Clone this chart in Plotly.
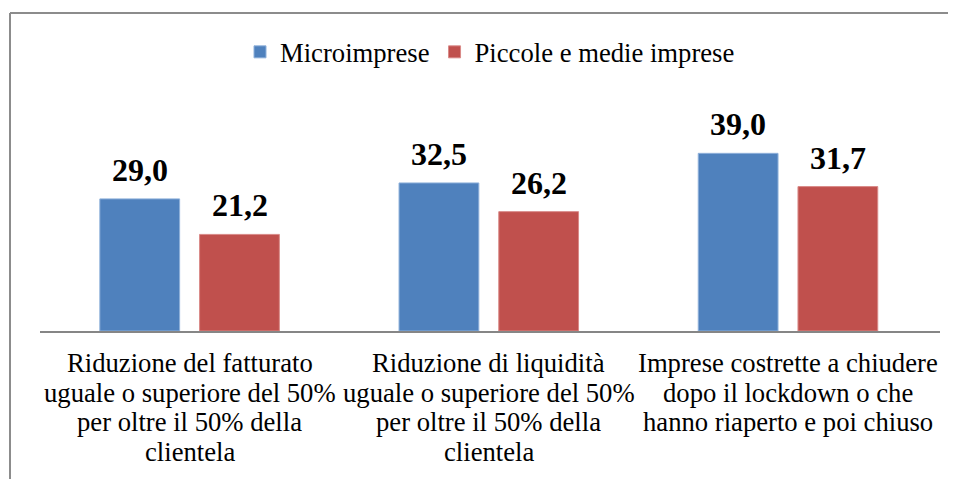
import plotly.graph_objects as go

categories = [
    "Riduzione del fatturato<br>uguale o superiore del 50%<br>per oltre il 50% della<br>clientela",
    "Riduzione di liquidità<br>uguale o superiore del 50%<br>per oltre il 50% della<br>clientela",
    "Imprese costrette a chiudere<br>dopo il lockdown o che<br>hanno riaperto e poi chiuso",
]
series_names = ["Microimprese", "Piccole e medie imprese"]
micro = [29.0, 32.5, 39.0]
pmi = [21.2, 26.2, 31.7]
colors = ["#4F81BD", "#C0504D"]
line_colors = ["#8EB0DA", "#D98A88"]

FONT = "Liberation Serif"

fig = go.Figure()
keys = ["c%d" % i for i in range(len(categories))]
for name, vals, col, lc in zip(series_names, [micro, pmi], colors, line_colors):
    fig.add_trace(go.Bar(
        x=keys, y=vals, name=name,
        marker=dict(color=col, line=dict(color=lc, width=1)),
    ))

annotations = []
# data labels
for si, vals in enumerate([micro, pmi]):
    shift = -50 if si == 0 else 50
    for k, v in zip(keys, vals):
        annotations.append(dict(
            x=k, y=v, xref="x", yref="y", xshift=shift, yshift=9,
            text="<b>" + f"{v:.1f}".replace(".", ",") + "</b>", showarrow=False,
            yanchor="bottom", xanchor="center",
            font=dict(family=FONT, size=32, color="black"),
        ))
# category labels, one annotation per line
for k, lab in zip(keys, categories):
    for li, line in enumerate(lab.split("<br>")):
        annotations.append(dict(
            x=k, y=0, xref="x", yref="y", yshift=-(32 + 29.6 * li),
            text=line, showarrow=False, yanchor="middle", xanchor="center",
            font=dict(family=FONT, size=26.67, color="black"),
        ))

# page has an 8px body margin; figure occupies page x 8..956, y 8..479
W, H = 948, 471
L, R, T, B = 32, 16, 118, 148
pw = W - L - R
ph = H - T - B
def px_x(x):
    return (x - L) / pw
def px_y(y):
    return (H - B - y) / ph

shapes = [
    dict(type="line", xref="paper", yref="paper",
         x0=px_x(2), x1=px_x(2), y0=px_y(5), y1=px_y(H + 2),
         line=dict(color="#8C8C8C", width=2)),
    dict(type="line", xref="paper", yref="paper",
         x0=px_x(2), x1=px_x(W + 2), y0=px_y(5), y1=px_y(5),
         line=dict(color="#8C8C8C", width=2)),
]

fig.update_layout(
    width=W, height=H,
    margin=dict(l=L, r=R, t=T, b=B),
    paper_bgcolor="white", plot_bgcolor="white",
    barmode="group", bargap=1/3, bargroupgap=0.2,
    font=dict(family=FONT, size=26.67, color="black"),
    xaxis=dict(showticklabels=False, showline=True, linecolor="#868686",
               linewidth=2, ticks="", showgrid=False, zeroline=False),
    yaxis=dict(range=[0, 45], visible=False),
    showlegend=True,
    legend=dict(orientation="h", x=0.5, xanchor="center",
                y=px_y(44), yanchor="middle", bgcolor="rgba(0,0,0,0)"),
    annotations=annotations,
    shapes=shapes,
)

fig.write_html("out.html")
